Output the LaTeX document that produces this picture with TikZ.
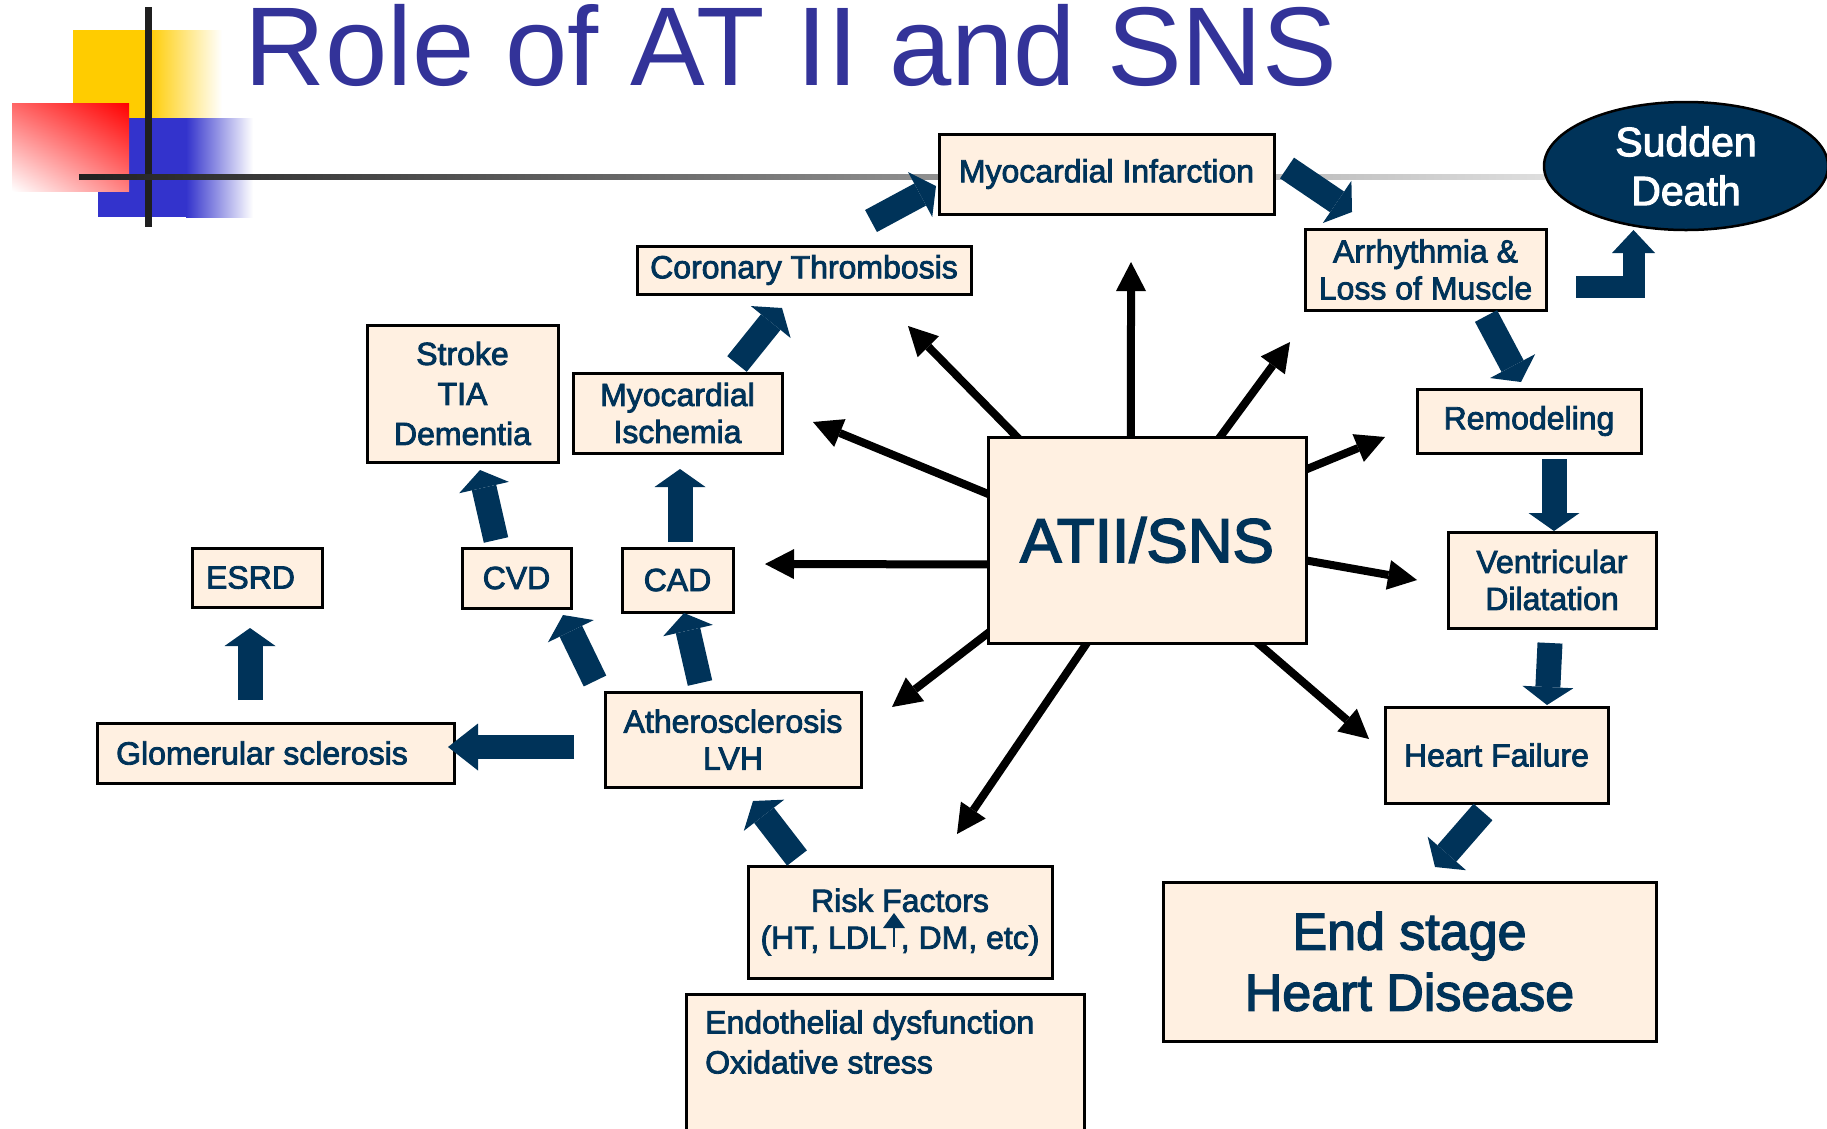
\documentclass[tikz,border=0pt]{standalone}
\usepackage{fontspec}
\setmainfont{Liberation Sans}
\newfontfamily\boxfont[FakeBold=2.6]{Liberation Sans}
\usetikzlibrary{arrows.meta,calc,shapes.geometric,shadings,backgrounds}

\definecolor{navy}{HTML}{003359}
\definecolor{peach}{HTML}{FFF0E1}
\definecolor{titleblue}{HTML}{333399}
\definecolor{logoyellow}{HTML}{FFCC00}
\definecolor{logoblue}{HTML}{3333CC}

\tikzset{
  box/.style={draw=black, line width=3pt, fill=peach, text=navy, align=center, inner sep=0pt,
    font=\boxfont\fontsize{32}{37}\selectfont},
  ray/.style={line width=8pt, -{Triangle[length=29pt,width=30pt,line width=0pt]}},
  fat/.style={navy, line width=25pt, -{Triangle[length=18pt,width=51pt,line width=0pt]}},
}

\begin{document}
\begin{tikzpicture}[x=1pt,y=-1pt]

    \useasboundingbox (0,0) rectangle (1827,1128);
    \clip (0,0) rectangle (1827,1128);

    % Logo squares and bars
    \fill[logoyellow] (73,30) rectangle (148,118);
    \shade[left color=logoyellow,right color=white] (148,30) rectangle (222,118);
    \fill[logoblue] (98,118) rectangle (186,217);
    \shade[left color=logoblue,right color=white] (186,118) rectangle (253,217);
    \shade[upper right=red,lower left=white,upper left=red!60,lower right=red!50] (12,103) rectangle (129,191);
    \fill[black!88] (144.5,7) rectangle (151.5,227);
    \shade[left color=black!87,right color=black!13] (79,174) rectangle (1545,179);

    % Title
    \node[anchor=base west, inner sep=0pt, text=titleblue, font=\fontsize{112}{112}\selectfont] (title) at (244,85) {Role of AT II and SNS};

    % Tips of the rays
    \coordinate (tipA) at (1131,262);
    \coordinate (tipB) at (908,326);
    \coordinate (tipC) at (1290,342);
    \coordinate (tipD) at (1385,437);
    \coordinate (tipE) at (1417,580);
    \coordinate (tipF) at (1369,739);
    \coordinate (tipG) at (957,834);
    \coordinate (tipH) at (892,707);
    \coordinate (tipI) at (765,564);
    \coordinate (tipJ) at (813,422);

    % Central box
    \node[box, minimum width=318, minimum height=206, font=\boxfont\fontsize{62}{62}\selectfont] (atii) at (1147,540) {ATII/SNS};

    % Rays out of ATII/SNS (under the box)
    \begin{scope}[on background layer]
    \draw[ray] ($(atii.north west)!0.45!(atii.north east)+(0,10)$) -- (tipA);
    \draw[ray] ($(atii.north west)!0.09!(atii.north east)+(10,10)$) -- (tipB);
    \draw[ray] ($(atii.north west)!0.73!(atii.north east)+(-7,10)$) -- (tipC);
    \draw[ray] ($(atii.north east)!0.16!(atii.south east)+(-10,4)$) -- (tipD);
    \draw[ray] ($(atii.north east)!0.60!(atii.south east)+(-10,-2)$) -- (tipE);
    \draw[ray] ($(atii.south west)!0.85!(atii.south east)+(-8,-7)$) -- (tipF);
    \draw[ray] ($(atii.south west)!0.31!(atii.south east)+(6,-9)$) -- (tipG);
    \draw[ray] ($(atii.north west)!0.95!(atii.south west)+(8,-6)$) -- (tipH);
    \draw[ray] ($(atii.north west)!0.617!(atii.south west)+(10,0)$) -- (tipI);
    \draw[ray] ($(atii.north west)!0.277!(atii.south west)+(10,4)$) -- (tipJ);
    \end{scope}

    % Boxes
    \node[box, minimum width=335, minimum height=80] (mi) at (1106.5,174) {Myocardial Infarction};
    \node[box, minimum width=334, minimum height=48] (ct) at (804,270) {Coronary Thrombosis};
    \node[box, minimum width=241, minimum height=81] (arr) at (1425.5,269.5) {Arrhythmia \&\\Loss of Muscle};
    \node[box, minimum width=191, minimum height=137, font=\boxfont\fontsize{32}{40}\selectfont] (stroke) at (462.5,393.5) {Stroke\\TIA\\Dementia};
    \node[box, minimum width=209, minimum height=80] (misch) at (677.5,413) {Myocardial\\Ischemia};
    \node[box, minimum width=224, minimum height=64] (remod) at (1529,421) {Remodeling};
    \node[box, minimum width=130, minimum height=59] (esrd) at (257,577.5) {ESRD\hspace*{13pt}};
    \node[box, minimum width=109, minimum height=60] (cvd) at (516.5,578) {CVD};
    \node[box, minimum width=111, minimum height=64] (cad) at (677.5,580) {CAD};
    \node[box, minimum width=208, minimum height=96] (vd) at (1552,580) {Ventricular\\Dilatation};
    \node[box, minimum width=357, minimum height=60] (glom) at (275.5,753) {Glomerular sclerosis\hspace*{27pt}};
    \node[box, minimum width=256, minimum height=95] (ath) at (733,739.5) {Atherosclerosis\\LVH};
    \node[box, minimum width=223, minimum height=96] (hf) at (1496.5,755) {Heart Failure};
    \node[box, minimum width=304, minimum height=112] (rf) at (900,922) {Risk Factors\\(HT, LDL\hspace{14pt}, DM, etc)};
    \node[box, minimum width=493, minimum height=159, font=\boxfont\fontsize{52}{61}\selectfont] (esh) at (1409.5,961.5) {End stage\\Heart Disease};
    \node[box, minimum width=398, minimum height=160, anchor=north west] (endo) at (685,993) {};
    \node[anchor=north west, inner sep=0pt, text=navy, align=left, font=\boxfont\fontsize{32}{40}\selectfont] (endotext) at (705,1010) {Endothelial dysfunction\\Oxidative stress};
    \node[ellipse, draw=black, line width=2.5pt, fill=navy, text=white, inner sep=0pt, minimum width=284, minimum height=128,
      align=center, font=\boxfont\fontsize{41}{49}\selectfont] (sd) at (1686,166) {Sudden\\Death};

    % Small up arrow after LDL
    \draw[navy, line width=2.5pt, -{Triangle[length=15pt,width=22pt,line width=0pt]}] ($(rf.center)+(-6,25)$) -- ($(rf.center)+(-6,-9)$);

    % Ends of the block arrows
    \coordinate (ct-out) at (871,221);    \coordinate (mi-in) at (936,186);
    \coordinate (mi-out) at (1287,168);   \coordinate (arr-in) at (1352,212);
    \coordinate (arr-out) at (1576,287);  \coordinate (sd-in) at (1633.5,230);
    \coordinate (arr-down) at (1486,316); \coordinate (remod-in) at (1521,382);
    \coordinate (remod-out) at (1554,459);\coordinate (vd-in) at (1554,531);
    \coordinate (vd-out) at (1550,643);   \coordinate (hf-in) at (1547,705);
    \coordinate (hf-out) at (1483,812);   \coordinate (esh-in) at (1435,867);
    \coordinate (ath-left) at (574,747);  \coordinate (glom-in) at (448,747);
    \coordinate (glom-out) at (250,700);  \coordinate (esrd-in) at (250,628);
    \coordinate (ath-cvd) at (595,681);   \coordinate (cvd-in) at (563,615);
    \coordinate (ath-cad) at (700,683);   \coordinate (cad-in) at (684,613);
    \coordinate (cvd-out) at (496,540);   \coordinate (stroke-in) at (480,470);
    \coordinate (cad-out) at (680,542);   \coordinate (misch-in) at (680,469);
    \coordinate (misch-out) at (737,364); \coordinate (ct-in) at (782,308);
    \coordinate (rf-out) at (797,858);    \coordinate (ath-in) at (753,801);

    % Block arrows
    \draw[fat] (ct-out) -- (mi-in);
    \draw[fat] (mi-out) -- (arr-in);
    \draw[fat, line width=22pt, -{Triangle[length=23pt,width=43pt,line width=0pt]}] (arr-out) -| (sd-in);
    \draw[fat] (arr-down) -- (remod-in);
    \draw[fat] (remod-out) -- (vd-in);
    \draw[fat] (vd-out) -- (hf-in);
    \draw[fat] (hf-out) -- (esh-in);
    \draw[fat, line width=24pt, -{Triangle[length=30pt,width=47pt,line width=0pt]}] (ath-left) -- (glom-in);
    \draw[fat] (glom-out) -- (esrd-in);
    \draw[fat] (ath-cvd) -- (cvd-in);
    \draw[fat] (ath-cad) -- (cad-in);
    \draw[fat] (cvd-out) -- (stroke-in);
    \draw[fat] (cad-out) -- (misch-in);
    \draw[fat] (misch-out) -- (ct-in);
    \draw[fat] (rf-out) -- (ath-in);

\end{tikzpicture}
\end{document}
